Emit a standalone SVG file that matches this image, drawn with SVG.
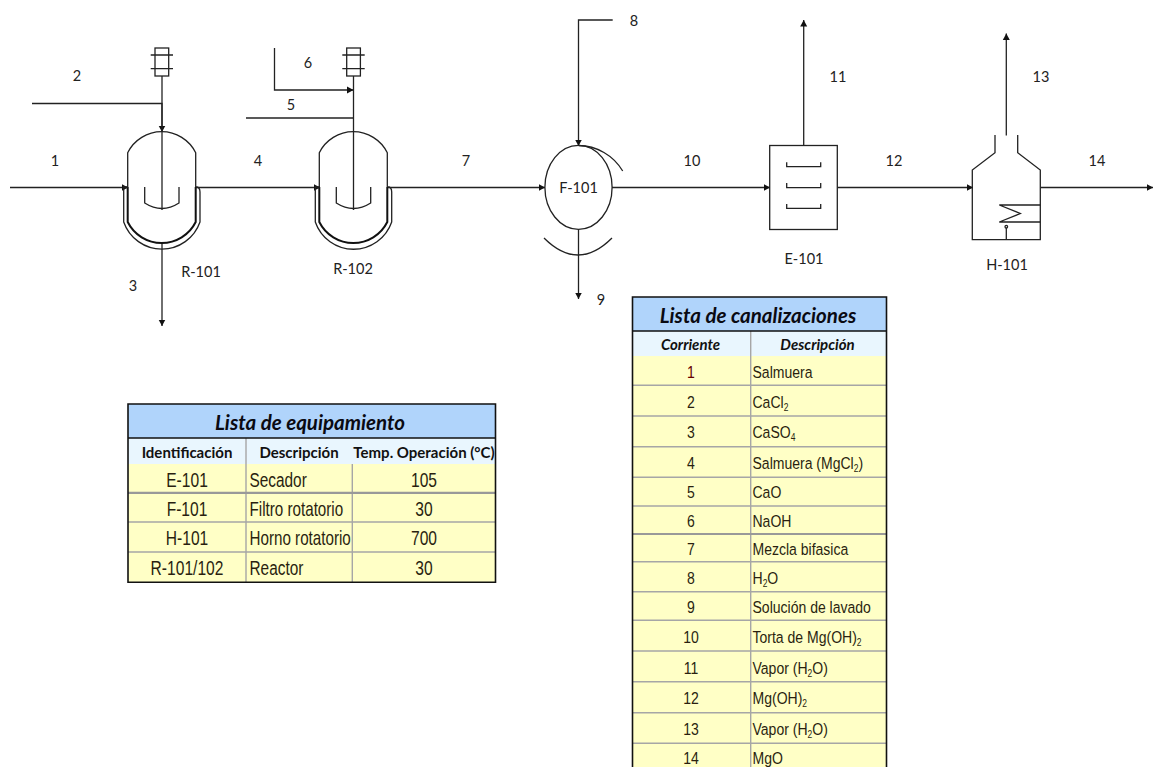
<svg xmlns="http://www.w3.org/2000/svg" width="1154" height="767" viewBox="0 0 1154 767">
<style>
.l{fill:none;stroke:#222;stroke-width:1.3}
.a{fill:none;stroke:#222;stroke-width:1.3;marker-end:url(#ah)}
text{font-family:"Lato","Noto Sans",sans-serif;fill:#222}
.n{font-size:14.500px;text-anchor:middle}
.h1{font-size:20.500px;font-style:italic;font-weight:700;text-anchor:middle;fill:#0a0a12}
.h2{font-size:15px;font-weight:700;text-anchor:middle;fill:#111}
.h2i{font-size:15px;font-weight:700;font-style:italic;text-anchor:middle;fill:#111}
.c text{font-family:"Liberation Sans",Arial,sans-serif;fill:#2a1f10}
.s1 text{font-size:20px}
.s2 text{font-size:16.500px}
.c .m{text-anchor:middle}
.g{stroke:#a6a6a6;stroke-width:1.4;fill:none}
.b{fill:none;stroke:#111;stroke-width:1.6}
</style>
<defs>
<marker id="ah" markerUnits="userSpaceOnUse" markerWidth="7" markerHeight="8" refX="6.500" refY="4" orient="auto"><path d="M0 .5L6.500 4L0 7.500z" fill="#111"/></marker>
</defs>
<rect width="1154" height="767" fill="#fff"/>
<g id="connectors">
<path class="a" d="M10 187.500H128"/>
<path class="a" d="M32 103.500H162V132"/>
<path class="a" d="M162 243V326"/>
<path class="a" d="M196 187.500H320"/>
<path class="a" d="M274.500 48V90H353.500"/>
<path class="l" d="M246 118H353.500"/>
<path class="a" d="M388 187.500H545"/>
<path class="a" d="M612.700 20H578.500V146"/>
<path class="a" d="M578.500 229.500V299"/>
<path class="a" d="M612 187.500H770"/>
<path class="a" d="M803.700 145.500V20"/>
<path class="a" d="M837.500 187.500H973"/>
<path class="a" d="M1006.300 135.500V33.500"/>
<path class="a" d="M1040.500 187.500H1153"/>
</g>
<g id="R-101">
<path class="l" d="M127.700 187V152.700A38 38 0 0 1 195.700 152.700V187"/>
<path d="M127.700 187V222A38 38 0 0 0 195.700 222V187" fill="none" stroke="#111" stroke-width="2"/>
<path class="l" d="M128 187H123.700V222A40.400 40.400 0 0 0 200 222V192Q200 187 196 187"/>
<path class="l" d="M162 76V210"/>
<path class="l" d="M144.700 187V203Q162 214 179 203V187"/>
<rect class="l" x="155" y="48" width="13.700" height="28"/>
<path class="l" d="M150.700 55H173M150.700 68.700H173"/>
<text class="n" x="201" y="277">R-101</text>
</g>
<g id="R-102">
<path class="l" d="M319.300 187V152.700A38 38 0 0 1 387.300 152.700V187"/>
<path d="M319.300 187V222A38 38 0 0 0 387.300 222V187" fill="none" stroke="#111" stroke-width="2"/>
<path class="l" d="M320 187H315.300V222A40.400 40.400 0 0 0 391.700 222V192Q391.700 187 388 187"/>
<path class="l" d="M353.500 76V210"/>
<path class="l" d="M336.300 187V203Q353.500 214 370.700 203V187"/>
<rect class="l" x="346.700" y="48" width="13.700" height="28"/>
<path class="l" d="M342.300 55H364.700M342.300 68.700H364.700"/>
<text class="n" x="353" y="274">R-102</text>
</g>
<g id="F-101">
<ellipse class="l" cx="578.500" cy="187.300" rx="33.600" ry="42"/>
<path class="l" d="M578.500 145.500A52 52 0 0 1 622.700 171"/>
<path class="l" d="M544 238Q578 272 612 238"/>
<text class="n" x="578.500" y="193">F-101</text>
</g>
<g id="E-101">
<rect class="l" x="769.700" y="145.500" width="67.600" height="84"/>
<path class="l" d="M786.700 162.300V166.700H820.700V162.300M786.700 183V187.700H820.700V183M786.700 204V208.300H820.700V204"/>
<text class="n" x="804" y="264">E-101</text>
</g>
<g id="H-101">
<path class="l" d="M995 135V152.700L972.300 170V239.700H1040.300V170L1017.700 152.700V135"/>
<path class="l" d="M1040.300 205H999.300L1020.300 213.500L999.300 222H1040.300"/>
<circle class="l" cx="1006.300" cy="226.700" r="1.300"/>
<path class="l" d="M1006.300 228V239.700"/>
<text class="n" x="1007" y="270">H-101</text>
</g>
<g id="stream-labels">
<text class="n" x="55" y="166">1</text>
<text class="n" x="77" y="81">2</text>
<text class="n" x="133" y="291">3</text>
<text class="n" x="258" y="166">4</text>
<text class="n" x="291" y="110">5</text>
<text class="n" x="308" y="68">6</text>
<text class="n" x="466" y="166">7</text>
<text class="n" x="634" y="26">8</text>
<text class="n" x="601" y="305">9</text>
<text class="n" x="692" y="166">10</text>
<text class="n" x="838" y="82">11</text>
<text class="n" x="894" y="166">12</text>
<text class="n" x="1041" y="82">13</text>
<text class="n" x="1097" y="166">14</text>
</g>
<g id="lista-equipamiento">
<rect x="128" y="404" width="367.500" height="34" fill="#b0d4fb"/>
<rect x="128" y="438" width="367.500" height="26" fill="#e9f6fe"/>
<rect x="128" y="464" width="367.500" height="118" fill="#ffffc6"/>
<path class="g" d="M128 522H495.500M128 552H495.500M246 438V582M352.300 464V582"/>
<path d="M128 492.800H495.500" stroke="#999" stroke-width="2.200" fill="none"/>
<path class="b" d="M128 438H495.500M128 404H495.500V582.300H128Z"/>
<text class="h1" x="310" y="430">Lista de equipamiento</text>
<text class="h2" x="187" y="458">Identificación</text>
<text class="h2" x="299" y="458">Descripción</text>
<text class="h2" x="424" y="458">Temp. Operación (°C)</text>
<g class="c s1">
<text class="m" transform="translate(187 486.500) scale(.78 1)">E-101</text>
<text transform="translate(249.500 486.500) scale(.77 1)">Secador</text>
<text class="m" transform="translate(424 486.500) scale(.78 1)">105</text>
<text class="m" transform="translate(187 515.500) scale(.78 1)">F-101</text>
<text transform="translate(249.500 515.500) scale(.76 1)">Filtro rotatorio</text>
<text class="m" transform="translate(424 515.500) scale(.78 1)">30</text>
<text class="m" transform="translate(187 544.500) scale(.78 1)">H-101</text>
<text transform="translate(249.500 544.500) scale(.76 1)">Horno rotatorio</text>
<text class="m" transform="translate(424 544.500) scale(.78 1)">700</text>
<text class="m" transform="translate(187 574.500) scale(.78 1)">R-101/102</text>
<text transform="translate(249.500 574.500) scale(.77 1)">Reactor</text>
<text class="m" transform="translate(424 574.500) scale(.78 1)">30</text>
</g>
</g>
<g id="lista-canalizaciones">
<rect x="632.500" y="297" width="254" height="34" fill="#b0d4fb"/>
<rect x="632.500" y="331" width="254" height="25" fill="#e9f6fe"/>
<rect x="632.500" y="356" width="254" height="411" fill="#ffffc6"/>
<path class="g" d="M632.500 385.300H886.500M632.500 416H886.500M632.500 446.700H886.500M632.500 477.300H886.500M632.500 506H886.500M632.500 561.700H886.500M632.500 591.700H886.500M632.500 620.300H886.500M632.500 651H886.500M632.500 681.700H886.500M632.500 712.700H886.500M632.500 743.300H886.500M750.700 331V767"/>
<path d="M632.500 534H886.500" stroke="#999" stroke-width="2.200" fill="none"/>
<path class="b" d="M632.500 331H886.500M632.500 767V297H886.500V767"/>
<text class="h1" x="758" y="323">Lista de canalizaciones</text>
<text class="h2i" x="690.500" y="350">Corriente</text>
<text class="h2i" x="817.500" y="350">Descripción</text>
<g class="c s2">
<text class="m" transform="translate(691 377.500) scale(.85 1)" style="fill:#600">1</text>
<text class="m" transform="translate(691 407.500) scale(.85 1)">2</text>
<text class="m" transform="translate(691 437.500) scale(.85 1)">3</text>
<text class="m" transform="translate(691 468.500) scale(.85 1)">4</text>
<text class="m" transform="translate(691 498) scale(.85 1)">5</text>
<text class="m" transform="translate(691 526.500) scale(.85 1)">6</text>
<text class="m" transform="translate(691 555) scale(.85 1)">7</text>
<text class="m" transform="translate(691 583.500) scale(.85 1)">8</text>
<text class="m" transform="translate(691 613) scale(.85 1)">9</text>
<text class="m" transform="translate(691 642.500) scale(.85 1)">10</text>
<text class="m" transform="translate(691 673.500) scale(.85 1)">11</text>
<text class="m" transform="translate(691 704) scale(.85 1)">12</text>
<text class="m" transform="translate(691 734.500) scale(.85 1)">13</text>
<text class="m" transform="translate(691 764) scale(.85 1)">14</text>
<text transform="translate(752.500 377.500) scale(.85 1)">Salmuera</text>
<text transform="translate(752.500 407.500) scale(.85 1)">CaCl<tspan font-size="10" dy="3">2</tspan></text>
<text transform="translate(752.500 437.500) scale(.85 1)">CaSO<tspan font-size="10" dy="3">4</tspan></text>
<text transform="translate(752.500 468.500) scale(.85 1)">Salmuera (MgCl<tspan font-size="10" dy="3">2</tspan><tspan dy="-3">)</tspan></text>
<text transform="translate(752.500 498) scale(.85 1)">CaO</text>
<text transform="translate(752.500 526.500) scale(.85 1)">NaOH</text>
<text transform="translate(752.500 555) scale(.85 1)">Mezcla bifasica</text>
<text transform="translate(752.500 583.500) scale(.85 1)">H<tspan font-size="10" dy="3">2</tspan><tspan dy="-3">O</tspan></text>
<text transform="translate(752.500 613) scale(.85 1)">Solución de lavado</text>
<text transform="translate(752.500 642.500) scale(.85 1)">Torta de Mg(OH)<tspan font-size="10" dy="3">2</tspan></text>
<text transform="translate(752.500 673.500) scale(.85 1)">Vapor (H<tspan font-size="10" dy="3">2</tspan><tspan dy="-3">O)</tspan></text>
<text transform="translate(752.500 704) scale(.85 1)">Mg(OH)<tspan font-size="10" dy="3">2</tspan></text>
<text transform="translate(752.500 734.500) scale(.85 1)">Vapor (H<tspan font-size="10" dy="3">2</tspan><tspan dy="-3">O)</tspan></text>
<text transform="translate(752.500 764) scale(.85 1)">MgO</text>
</g>
</g>
</svg>
